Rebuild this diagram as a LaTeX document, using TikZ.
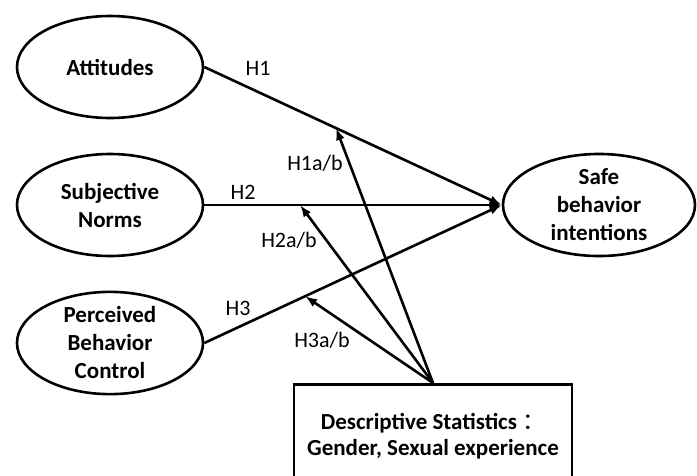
\documentclass[tikz,border=0pt]{standalone}
\usepackage{fontspec}
\setmainfont{Carlito}
\newfontfamily\cjk{Noto Sans CJK SC}
\usetikzlibrary{shapes.geometric,arrows.meta}

\begin{document}
\begin{tikzpicture}[
				x=1pt, y=-1pt,
				font=\fontsize{22}{28}\selectfont,
				latent/.style = {
					ellipse,
					draw,
					line width = 2.6pt,
					minimum width = 186pt,
					minimum height = 102pt,
					inner sep = 0pt,
					align = center,
					font = \fontsize{23}{28}\selectfont\bfseries
				},
				stats/.style = {
					draw,
					line width = 2.6pt,
					minimum width = 278pt,
					minimum height = 104pt,
					align = center,
					font = \fontsize{23}{26}\selectfont\bfseries
				},
				path/.style = {
					line width = 2.6pt,
					-{Latex[length=12pt,width=9pt]}
				},
				hyp/.style = {inner sep = 0pt}
			]
			\useasboundingbox (0,0) rectangle (697,475);
			\node[latent] (A)   at (110,67)  {Attitudes};
			\node[latent] (SN)  at (110,205) {Subjective\\Norms};
			\node[latent] (PBC) at (110,343) {Perceived\\Behavior\\Control};
			\node[latent, minimum width=192pt] (SBI) at (599,205) {Safe\\behavior\\intentions};
			\node[stats, anchor=north] (DS) at (433,383) {Descriptive Statistics {\cjk\mdseries ：}\\Gender, Sexual experience};
			\draw[path] (A.east)   -- (SBI.west) coordinate[pos=0.443] (M1);
			\draw[path] (SN.east)  -- (SBI.west) coordinate[pos=0.322] (M2);
			\draw[path] (PBC.east) -- (SBI.west) coordinate[pos=0.339] (M3);
			\draw[path] (DS.north) -- (M1);
			\draw[path] (DS.north) -- (M2);
			\draw[path] (DS.north) -- (M3);
			\node[hyp] (H1)  at (258,68)  {H1};
			\node[hyp] (H2)  at (243,192) {H2};
			\node[hyp] (H3)  at (238,308) {H3};
			\node[hyp] (H1m) at (315,163) {H1a/b};
			\node[hyp] (H2m) at (289,240) {H2a/b};
			\node[hyp] (H3m) at (322,340) {H3a/b};
		\end{tikzpicture}
\end{document}
